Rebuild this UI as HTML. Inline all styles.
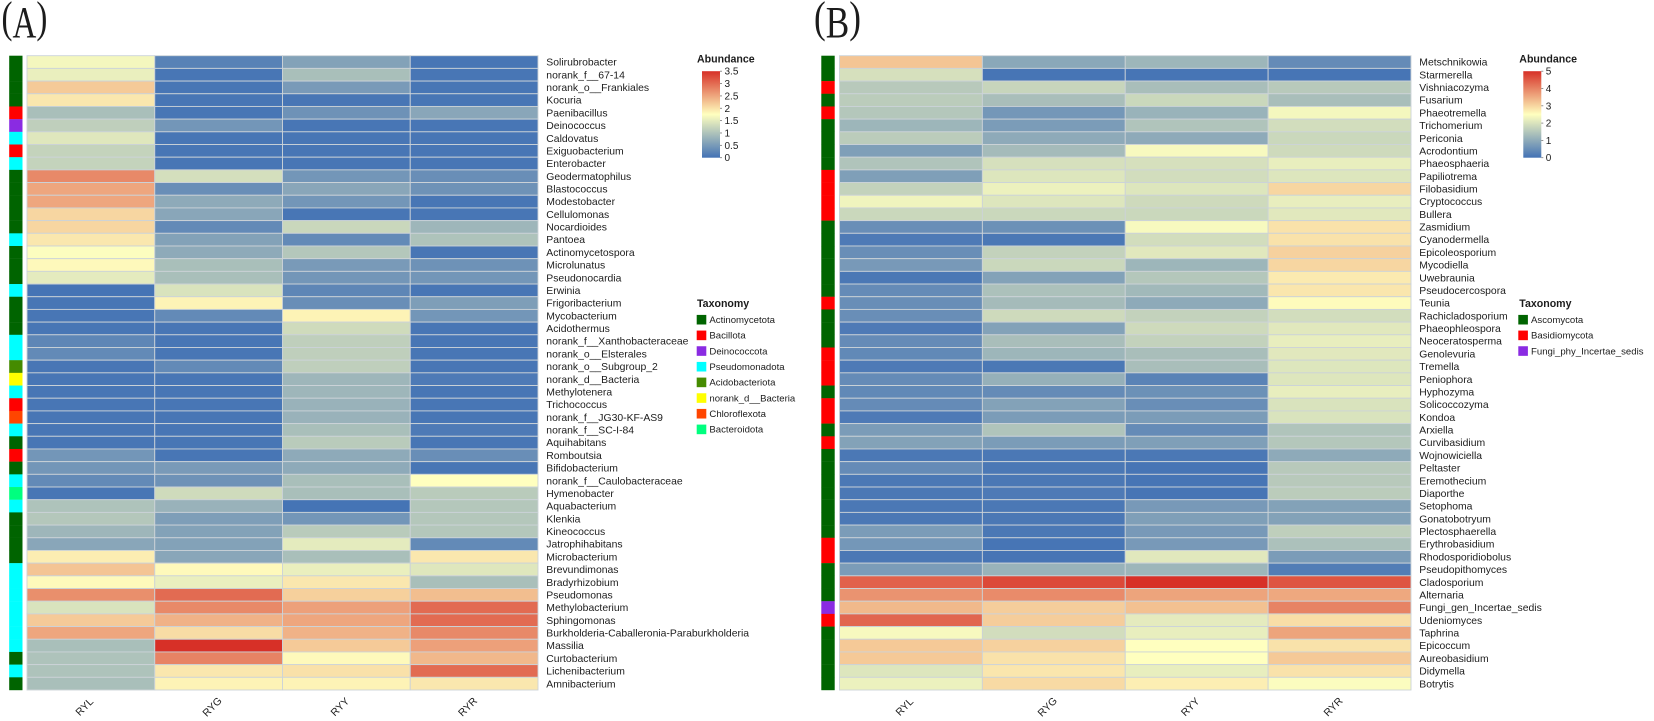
<!DOCTYPE html>
<html lang="en">
<head>
<meta charset="utf-8">
<title>Abundance heatmaps</title>
<style>
  html, body { margin: 0; padding: 0; background: #fff; }
  #chart { display: block; width: 1654px; height: 721px; filter: blur(0.35px); }
  text { font-family: "Liberation Sans", Arial, sans-serif; fill: #1c1c1c; }
</style>
</head>
<body>
<svg id="chart" xmlns="http://www.w3.org/2000/svg" width="1654" height="721" viewBox="0 0 1654 721">
  <defs>
    <linearGradient id="scale-gradient" x1="0" y1="1" x2="0" y2="0">
      <stop offset="0" stop-color="#4372b5"/>
      <stop offset="0.5" stop-color="#ffffbf"/>
      <stop offset="1" stop-color="#d73027"/>
    </linearGradient>
  </defs>
  <text transform="translate(1.5 37) scale(0.75 1)" style="font-family:'Liberation Serif',serif;font-size:44px;"><tspan dy="-5">(</tspan><tspan dy="5">A</tspan><tspan dy="-5">)</tspan></text>
  <text transform="translate(814 37) scale(0.8 1)" style="font-family:'Liberation Serif',serif;font-size:44px;"><tspan dy="-5">(</tspan><tspan dy="5">B</tspan><tspan dy="-5">)</tspan></text>
  <g id="panel-a"></g>
  <g id="panel-b"></g>
</svg>
<script>
const columns = ["RYL", "RYG", "RYY", "RYR"];

const genusA = [
  "Solirubrobacter","norank_f__67-14","norank_o__Frankiales","Kocuria","Paenibacillus","Deinococcus","Caldovatus","Exiguobacterium","Enterobacter","Geodermatophilus",
  "Blastococcus","Modestobacter","Cellulomonas","Nocardioides","Pantoea","Actinomycetospora","Microlunatus","Pseudonocardia","Erwinia","Frigoribacterium",
  "Mycobacterium","Acidothermus","norank_f__Xanthobacteraceae","norank_o__Elsterales","norank_o__Subgroup_2","norank_d__Bacteria","Methylotenera","Trichococcus","norank_f__JG30-KF-AS9","norank_f__SC-I-84",
  "Aquihabitans","Romboutsia","Bifidobacterium","norank_f__Caulobacteraceae","Hymenobacter","Aquabacterium","Klenkia","Kineococcus","Jatrophihabitans","Microbacterium",
  "Brevundimonas","Bradyrhizobium","Pseudomonas","Methylobacterium","Sphingomonas","Burkholderia-Caballeronia-Paraburkholderia","Massilia","Curtobacterium","Lichenibacterium","Amnibacterium"
];
const taxonA = [
  0,0,0,0,1,2,3,1,3,0,
  0,0,0,0,3,0,0,0,3,0,
  0,0,3,3,4,5,3,1,6,3,
  0,1,0,3,7,3,0,0,0,0,
  3,3,3,3,3,3,3,0,3,0
];
const valuesA_RYL = [
  1.65,1.55,2.2,1.95,.95,1.15,1.45,1.2,1.2,2.75,
  2.5,2.5,2.1,2.1,1.95,1.72,1.8,1.5,.02,.05,
  .05,.05,.25,.3,.05,.05,.05,.05,.05,.05,
  .05,.45,.45,.3,.05,1.0,1.05,.85,.65,1.9,
  2.25,1.8,2.7,1.4,2.2,2.5,.95,1.0,1.0,.95
];
const valuesA_RYG = [
  .2,.05,.05,.05,.05,.45,.05,.05,.05,1.35,
  .35,.7,.65,.3,.6,.7,.95,.95,1.4,1.85,
  .3,.05,.05,.05,.3,.05,.05,.05,.05,.05,
  .05,.05,.5,.4,1.3,.8,.55,.6,.6,.65,
  1.8,1.55,3.0,2.75,2.4,2.05,3.5,2.8,1.95,1.85
];
const valuesA_RYY = [
  .6,.95,.5,.05,.4,.05,.05,.05,.05,.45,
  .65,.45,.05,1.25,.3,1.05,.5,.45,.25,.35,
  1.85,1.3,1.15,1.15,1.15,.85,.85,.8,.8,.95,
  1.1,.7,.7,.95,.95,.02,.45,1.1,1.5,.95,
  1.55,1.95,2.15,2.55,2.5,2.4,2.2,1.8,2.0,1.85
];
const valuesA_RYR = [
  .05,.05,.05,.05,.65,.05,.05,.05,.05,.35,
  .4,.05,.05,.85,1.0,.05,.4,.45,.05,.55,
  .45,.05,.05,.05,.05,.1,.05,.05,.05,.1,
  .05,.35,.05,1.75,1.1,1.05,1.05,1.05,.3,1.95,
  1.45,.95,2.3,3.0,3.0,2.75,2.55,2.35,3.0,1.95
];
const ticksA = ["0", "0.5", "1", "1.5", "2", "2.5", "3", "3.5"];
const taxonNamesA = ["Actinomycetota","Bacillota","Deinococcota","Pseudomonadota","Acidobacteriota","norank_d__Bacteria","Chloroflexota","Bacteroidota"];
const taxonColorsA = ["#006400","#ff0000","#8a2be2","#00ffff","#458b00","#ffff00","#ff4500","#00ff7f"];

const genusB = [
  "Metschnikowia","Starmerella","Vishniacozyma","Fusarium","Phaeotremella","Trichomerium","Periconia","Acrodontium","Phaeosphaeria","Papiliotrema",
  "Filobasidium","Cryptococcus","Bullera","Zasmidium","Cyanodermella","Epicoleosporium","Mycodiella","Uwebraunia","Pseudocercospora","Teunia",
  "Rachicladosporium","Phaeophleospora","Neoceratosperma","Genolevuria","Tremella","Peniophora","Hyphozyma","Solicoccozyma","Kondoa","Arxiella",
  "Curvibasidium","Wojnowiciella","Peltaster","Eremothecium","Diaporthe","Setophoma","Gonatobotryum","Plectosphaerella","Erythrobasidium","Rhodosporidiobolus",
  "Pseudopithomyces","Cladosporium","Alternaria","Fungi_gen_Incertae_sedis","Udeniomyces","Taphrina","Epicoccum","Aureobasidium","Didymella","Botrytis"
];
const taxonB = [
  0,0,1,0,1,0,0,0,0,1,
  1,1,1,0,0,0,0,0,0,1,
  0,0,0,1,1,1,0,1,1,0,
  1,0,0,0,0,0,0,0,1,1,
  0,0,0,2,1,0,0,0,0,0
];
const valuesB_RYL = [
  3.2,1.95,1.55,1.6,1.5,1.2,1.6,.8,1.45,.8,
  1.7,2.3,1.8,.5,.15,.5,.7,.1,.45,.5,
  .5,.15,.45,.4,.15,.45,.4,.45,.15,.75,
  .85,.1,.45,.1,.1,.1,.1,.75,.65,.1,
  .75,4.4,3.8,3.35,4.35,2.4,3.15,3.15,2.05,2.25
];
const valuesB_RYG = [
  .95,.05,1.75,1.35,.65,.75,1.0,1.3,1.95,2.05,
  2.25,2.05,1.8,.55,.1,1.7,1.8,.85,1.4,1.3,
  1.85,.85,1.35,1.2,.1,1.1,.45,.85,.75,1.45,
  .75,.1,.1,.1,.15,.1,.1,.1,.05,.05,
  1.15,4.7,3.9,3.1,3.1,1.9,3.05,2.85,2.8,2.95
];
const valuesB_RYY = [
  1.2,.05,1.35,1.8,1.15,1.45,1.0,2.4,1.95,1.9,
  2.05,1.85,1.8,2.4,1.9,2.1,1.2,1.5,1.25,1.0,
  1.7,1.85,1.7,1.35,1.35,.3,.55,.5,.75,.45,
  .8,.1,.05,.05,.05,.7,.8,.7,.7,2.1,
  1.2,5,3.6,3.25,2.15,2.2,2.5,2.5,2.2,2.7
];
const valuesB_RYR = [
  .45,.05,1.55,1.35,2.35,1.9,1.8,1.85,2.2,2.05,
  3.0,2.2,2.1,2.85,2.85,3.05,3.0,2.75,2.8,2.55,
  1.9,2.1,2.2,2.1,2.05,2.05,2.2,2.0,2.0,1.45,
  1.5,1.0,1.55,1.55,1.6,.85,.85,1.65,1.4,.75,
  .2,4.55,3.55,4.0,2.9,3.6,2.85,3.15,2.85,2.45
];
const ticksB = ["0", "1", "2", "3", "4", "5"];
const taxonNamesB = ["Ascomycota","Basidiomycota","Fungi_phy_Incertae_sedis"];
const taxonColorsB = ["#006400","#ff0000","#8a2be2"];

const SVG_NS = "http://www.w3.org/2000/svg";

function make(tag, parent, props) {
  const el = document.createElementNS(SVG_NS, tag);
  for (const key in props) el.setAttribute(key, props[key]);
  parent.appendChild(el);
  return el;
}

function mix(a, b, t) {
  return a.map((c, i) => Math.round(c + (b[i] - c) * t));
}

function colorScale(value, max) {
  const low = [67, 114, 181], mid = [255, 255, 191], high = [215, 48, 39];
  const t = Math.max(0, Math.min(1, value / max));
  const rgb = t < 0.5 ? mix(low, mid, t * 2) : mix(mid, high, (t - 0.5) * 2);
  return "rgb(" + rgb.join(",") + ")";
}

function drawPanel(root, cfg) {
  const rowCount = cfg.rows.length;
  const rowH = (cfg.bottom - cfg.top) / rowCount;
  const colW = (cfg.right - cfg.left) / cfg.columns.length;
  const xAt = j => cfg.left + j * colW;
  const yAt = i => cfg.top + i * rowH;
  const scaleY = v => cfg.barBottom - (v / cfg.max) * (cfg.barBottom - cfg.barTop);

  cfg.rows.forEach((name, i) => {
    const bar = make("rect", root, {
      x: cfg.annLeft, y: yAt(i), width: cfg.annWidth, height: rowH + 0.2,
      fill: cfg.taxonColors[cfg.taxon[i]]
    });
    
    

    cfg.series.forEach((values, j) => {
      const cell = make("rect", root, {
        x: xAt(j), y: yAt(i), width: colW, height: rowH,
        fill: colorScale(values[i], cfg.max),
        stroke: "#ccd3d8", "stroke-width": 0.9
      });
      
      
    });

    const label = make("text", root, {
      x: cfg.right + 8.3, y: yAt(i) + rowH / 2 + 3.6, "font-size": 10.4
    });
    label.textContent = name;
    
    
  });

  cfg.columns.forEach((name, j) => {
    const cx = xAt(j) + colW / 2 - 4;
    const label = make("text", root, {
      x: 0, y: 0, "font-size": 10.4, "text-anchor": "middle",
      transform: "translate(" + cx + " 709.3) rotate(-45)"
    });
    label.textContent = name;
    
    
  });

  const abTitle = make("text", root, {
    x: cfg.legendX, y: 62.5, "font-size": 10.6, "font-weight": "bold"
  });
  abTitle.textContent = "Abundance";
  
  

  const bar = make("rect", root, {
    x: cfg.barX, y: cfg.barTop, width: 18, height: cfg.barBottom - cfg.barTop,
    fill: "url(#scale-gradient)"
  });
  
  

  cfg.ticks.forEach(tick => {
    const y = scaleY(parseFloat(tick));
    const mark = make("line", root, {
      x1: cfg.barX + 18, x2: cfg.barX + 20, y1: y, y2: y, stroke: "#777", "stroke-width": 0.8
    });
    
    
    const text = make("text", root, {
      x: cfg.barX + 22.5, y: y + 3.5, "font-size": 10
    });
    text.textContent = tick;
    
    
  });

  const taxTitle = make("text", root, {
    x: cfg.legendX, y: 307, "font-size": 10.6, "font-weight": "bold"
  });
  taxTitle.textContent = "Taxonomy";
  
  

  cfg.taxonNames.forEach((name, k) => {
    const cy = 319.7 + k * 15.67;
    const swatch = make("rect", root, {
      x: cfg.swatchX, y: cy - 4.8, width: 9.6, height: 9.6, fill: cfg.taxonColors[k]
    });
    
    
    const text = make("text", root, {
      x: cfg.swatchX + 12.7, y: cy + 3.3, "font-size": 9.6
    });
    text.textContent = name;
    
    
  });
}

drawPanel(document.getElementById("panel-a"), {
  rows: genusA, columns: columns, taxon: taxonA,
  series: [valuesA_RYL, valuesA_RYG, valuesA_RYY, valuesA_RYR],
  max: 3.5, ticks: ticksA, taxonNames: taxonNamesA, taxonColors: taxonColorsA,
  left: 27, right: 538, top: 55.7, bottom: 690,
  annLeft: 9.2, annWidth: 13.3,
  legendX: 697, barX: 702, barTop: 71.2, barBottom: 157.7, swatchX: 696.7
});
drawPanel(document.getElementById("panel-b"), {
  rows: genusB, columns: columns, taxon: taxonB,
  series: [valuesB_RYL, valuesB_RYG, valuesB_RYY, valuesB_RYR],
  max: 5, ticks: ticksB, taxonNames: taxonNamesB, taxonColors: taxonColorsB,
  left: 839.5, right: 1411, top: 55.7, bottom: 690,
  annLeft: 821.3, annWidth: 13.4,
  legendX: 1519.3, barX: 1523.3, barTop: 71.2, barBottom: 157.7, swatchX: 1518.3
});
</script>
</body>
</html>
